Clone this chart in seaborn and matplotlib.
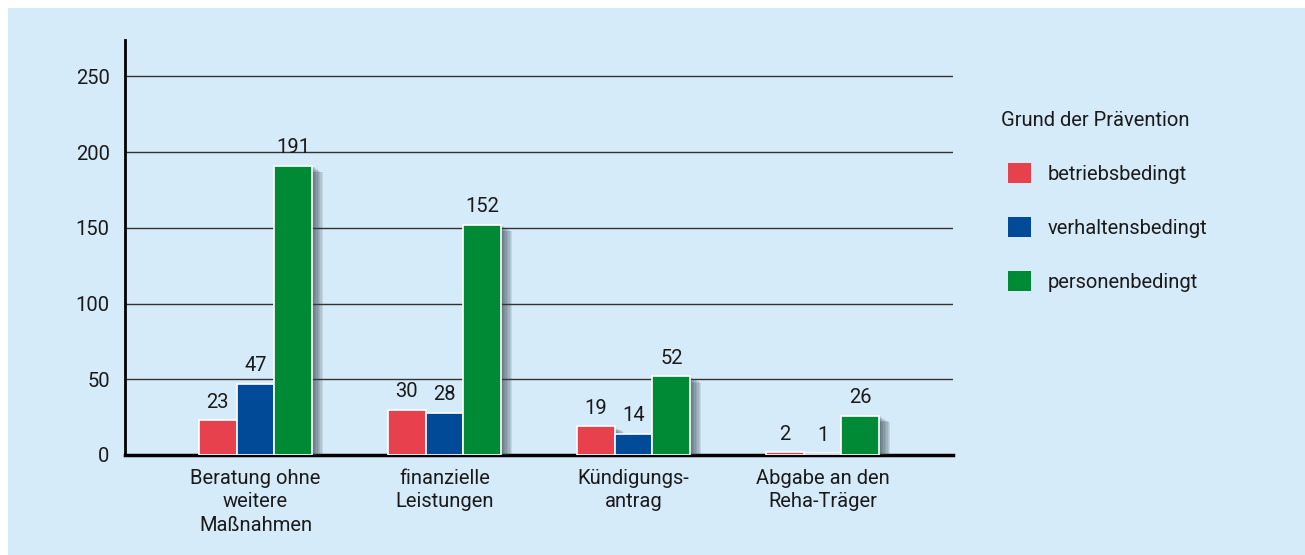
import matplotlib
matplotlib.use("Agg")
import matplotlib.pyplot as plt
import matplotlib.patheffects as pe
from matplotlib.patches import Patch, Rectangle
import seaborn as sns
import pandas as pd

categories = ["Beratung ohne\nweitere\nMaßnahmen", "finanzielle\nLeistungen",
              "Kündigungs-\nantrag", "Abgabe an den\nReha-Träger"]
groups = ["betriebsbedingt", "verhaltensbedingt", "personenbedingt"]
betriebsbedingt = [23, 30, 19, 2]
verhaltensbedingt = [47, 28, 14, 1]
personenbedingt = [191, 152, 52, 26]
yticks = [0, 50, 100, 150, 200, 250]
legend_title = "Grund der Prävention"

colors = ["#e8414e", "#004a98", "#008a36"]
bg = "#d6ebf9"
txt = "#1a1a1a"

rows = []
for g, vals in zip(groups, [betriebsbedingt, verhaltensbedingt, personenbedingt]):
    for c, v in zip(categories, vals):
        rows.append({"Kategorie": c, "Grund": g, "Anzahl": v})
df = pd.DataFrame(rows)

sns.set_style("white")
plt.rcParams['font.family'] = ['Roboto', 'DejaVu Sans']

fig = plt.figure(figsize=(13.05, 5.55), dpi=100)
fig.patch.set_facecolor("white")
fig.patches.append(Rectangle((8 / 1305, 0), 1, 1 - 8 / 555, transform=fig.transFigure,
                             facecolor=bg, edgecolor="none", zorder=-10))
ax = fig.add_axes([125 / 1305, 1 - 455 / 555, (953 - 125) / 1305, (455 - 40) / 555])
ax.set_facecolor("none")

sns.barplot(data=df, x="Kategorie", y="Anzahl", hue="Grund", hue_order=groups,
            order=categories, palette=colors, width=0.6, edgecolor="white",
            linewidth=1.2, saturation=1, ax=ax, legend=False)

# soft drop shadow, several faint layers
shadow = [pe.SimplePatchShadow(offset=(o, -o * 0.6), shadow_rgbFace="#34424d", alpha=0.12)
          for o in (1, 2, 3, 4, 5, 6, 7, 8)]
for bar in ax.patches:
    bar.set_path_effects(shadow + [pe.Normal()])
    bar.set_zorder(3)

for cont in ax.containers:
    ax.bar_label(cont, padding=6, fontsize=14.5, color=txt)

ax.set_xlim(-0.69, 3.69)
ax.set_ylim(0, 274)
ax.set_yticks(yticks)
ax.yaxis.grid(True, color="#333333", linewidth=1.0)
ax.set_axisbelow(True)
ax.tick_params(axis="both", length=0, labelsize=14.5, colors=txt)
ax.tick_params(axis="x", pad=10)
ax.tick_params(axis="y", pad=11)
for lab in ax.get_xticklabels():
    lab.set_linespacing(1.3)
ax.set_xlabel("")
ax.set_ylabel("")
for side in ["top", "right"]:
    ax.spines[side].set_visible(False)
ax.spines["left"].set_linewidth(2)
ax.spines["bottom"].set_linewidth(2.5)
ax.spines["left"].set_color("black")
ax.spines["bottom"].set_color("black")

fig.text(1001 / 1305, 1 - 120 / 555, legend_title, fontsize=14.5, color=txt,
         ha="left", va="center")
handles = [Patch(facecolor=c, edgecolor="none") for c in colors]
leg = fig.legend(handles, groups, loc="upper left",
                 bbox_to_anchor=(990 / 1305, 1 - 145 / 555), frameon=False,
                 fontsize=14.5, handlelength=1.15, handleheight=1.15,
                 labelspacing=1.65, handletextpad=0.8, borderpad=0.4)
for t in leg.get_texts():
    t.set_color(txt)

fig.savefig("out.png", dpi=100, facecolor=fig.get_facecolor())
